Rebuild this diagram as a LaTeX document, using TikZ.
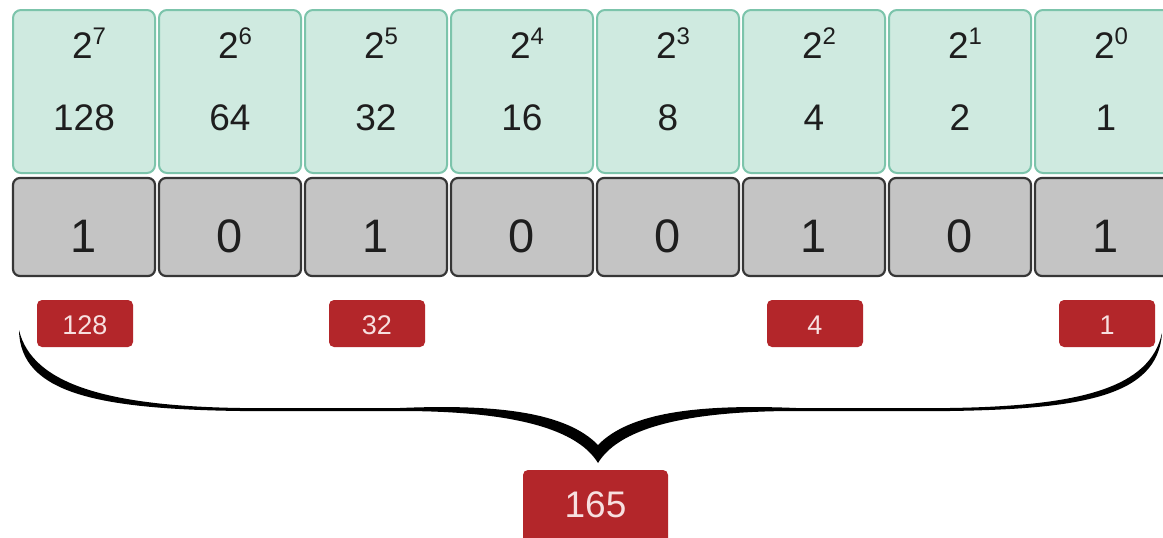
\documentclass[tikz,border=0pt]{standalone}
\usepackage{fontspec}
\setmainfont{Liberation Sans}
\definecolor{tealf}{HTML}{CFEAE0}
\definecolor{tealb}{HTML}{7CC4AB}
\definecolor{grf}{HTML}{C4C4C4}
\definecolor{grb}{HTML}{363636}
\definecolor{redc}{HTML}{B3262A}
\definecolor{pinkt}{HTML}{F7E0E0}
\definecolor{txt}{HTML}{1E1E1E}
\begin{document}
\begin{tikzpicture}[x=1pt,y=-1pt,
  topbox/.style={draw=tealb, fill=tealf, line width=2pt, rounded corners=8pt, minimum width=142pt, minimum height=163pt, inner sep=0pt},
  bitbox/.style={draw=grb, fill=grf, line width=2.2pt, rounded corners=7pt, minimum width=142pt, minimum height=98pt, inner sep=0pt},
  redbox/.style={fill=redc, rounded corners=5pt, minimum width=96pt, minimum height=47pt, inner sep=0pt},
  powtxt/.style={anchor=base, inner sep=0pt, text=txt, font=\fontsize{37}{40}\selectfont},
  valtxt/.style={anchor=base, inner sep=0pt, text=txt, font=\fontsize{37}{40}\selectfont},
  bittxt/.style={anchor=base, inner sep=0pt, text=txt, font=\fontsize{47}{50}\selectfont},
  redtxt/.style={anchor=base, inner sep=0pt, text=pinkt, font=\fontsize{27}{30}\selectfont},
  sumtxt/.style={anchor=base, inner sep=0pt, text=pinkt, font=\fontsize{37}{40}\selectfont}]
\clip (0,0) rectangle (1163,538);
\fill[white] (0,0) rectangle (1163,538);
\foreach \i/\p/\v/\b in {0/7/128/1,1/6/64/0,2/5/32/1,3/4/16/0,4/3/8/0,5/2/4/1,6/1/2/0,7/0/1/1} {
  \node[topbox] (t\i) at ({84+146*\i},91.5) {};
  \node[bitbox] (b\i) at ({84+146*\i},227) {};
  \node[powtxt] (p\i) at ({89+146*\i},58) {2\raisebox{14pt}{\fontsize{24}{26}\selectfont\p}};
  \node[valtxt] (v\i) at ({84+146*\i},130) {\v};
  \node[bittxt] (d\i) at ({84+146*\i},252) {\b};
}
\foreach \c/\t in {0/128,2/32,5/4,7/1} {
  \node[redbox] (r\c) at ({85+146*\c},323.5) {};
  \node[redtxt] (rt\c) at ({85+146*\c},334) {\t};
}
\node[redbox, minimum width=145pt, minimum height=84pt] (sum) at (595.5,512) {};
\node[sumtxt] (sumt) at (595.5,517) {165};
% curly brace
\fill[black]
  (19,330) .. controls (20,394) and (100,409) .. (240,411)
  -- (400,411) .. controls (500,411) and (575,425) .. (598,463)
  .. controls (621,425) and (696,411) .. (796,411)
  -- (950,411) .. controls (1080,409) and (1158,397) .. (1162,333)
  .. controls (1150,388) and (1080,406) .. (950,408)
  -- (796,408) .. controls (700,404) and (630,412) .. (598,445)
  .. controls (566,412) and (496,404) .. (400,408)
  -- (240,408) .. controls (110,406) and (32,385) .. (19,330) -- cycle;
\end{tikzpicture}
\end{document}
